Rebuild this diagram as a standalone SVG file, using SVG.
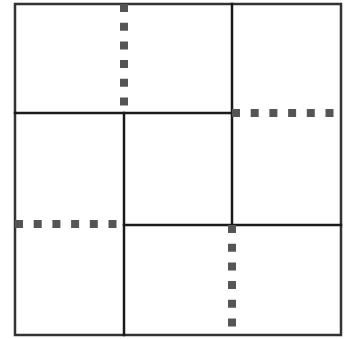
<svg xmlns="http://www.w3.org/2000/svg" width="349" height="339" viewBox="0 0 349 339">
<style>
.wall{stroke:#1a1a1a;stroke-width:2.5;fill:none;stroke-linecap:square}
.outer{stroke:#333;stroke-width:2.5;fill:none}
.dash{stroke:#555;stroke-width:8;fill:none;stroke-dasharray:8 10.7}
</style>
<rect width="349" height="339" fill="#fff"/>
<g id="walls">
<rect class="outer" x="15" y="4" width="326" height="331"/>
<line class="wall" x1="15" y1="113" x2="232" y2="113"/>
<line class="wall" x1="124" y1="113" x2="124" y2="335"/>
<line class="wall" x1="232" y1="4" x2="232" y2="225"/>
<line class="wall" x1="124" y1="225" x2="341" y2="225"/>
</g>
<g id="dashed">
<line class="dash" x1="124" y1="4" x2="124" y2="106"/>
<line class="dash" x1="232" y1="113" x2="341" y2="113"/>
<line class="dash" x1="15" y1="224" x2="124" y2="224"/>
<line class="dash" x1="232" y1="225" x2="232" y2="335"/>
</g>
</svg>
